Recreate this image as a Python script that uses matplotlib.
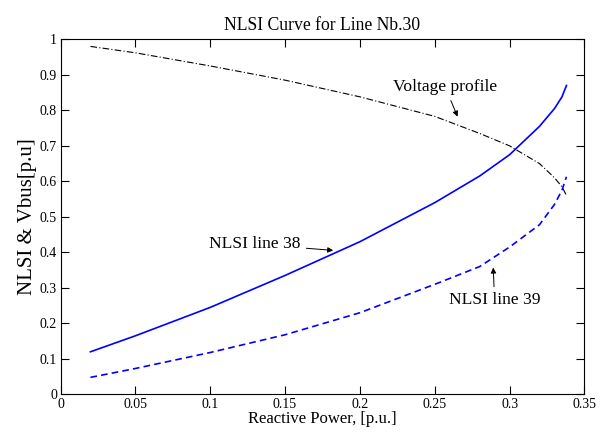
import matplotlib
matplotlib.use('Agg')
import matplotlib.pyplot as plt

# values
q = [0.02, 0.05, 0.10, 0.15, 0.20, 0.25, 0.28, 0.30, 0.32, 0.33, 0.335, 0.338]
nlsi38 = [0.12, 0.165, 0.245, 0.335, 0.43, 0.54, 0.615, 0.675, 0.755, 0.805, 0.838, 0.87]
nlsi39 = [0.048, 0.073, 0.118, 0.168, 0.23, 0.31, 0.36, 0.415, 0.478, 0.535, 0.575, 0.613]
vbus = [0.98, 0.962, 0.925, 0.885, 0.838, 0.783, 0.735, 0.70, 0.65, 0.61, 0.585, 0.56]

xticks = [0, 0.05, 0.1, 0.15, 0.2, 0.25, 0.3, 0.35]
yticks = [0, 0.1, 0.2, 0.3, 0.4, 0.5, 0.6, 0.7, 0.8, 0.9, 1]

plt.rcParams['font.family'] = ['Liberation Serif', 'DejaVu Serif']

fig = plt.figure(figsize=(6.05, 4.32), dpi=100)
ax = fig.add_axes([0.1, 0.087, 0.866, 0.822])

ax.plot(q, vbus, color='black', linewidth=0.8, linestyle=(0, (6, 2, 1, 2)))
ax.plot(q, nlsi38, color='blue', linewidth=1.2)
ax.plot(q, nlsi39, color='blue', linewidth=1.2, linestyle=(0, (4, 2.5)))

ax.set_xlim(0, 0.35)
ax.set_ylim(0, 1)
ax.set_xticks(xticks)
ax.set_xticklabels(['0', '0.05', '0.1', '0.15', '0.2', '0.25', '0.3', '0.35'])
ax.set_yticks(yticks)
ax.set_yticklabels(['0', '0.1', '0.2', '0.3', '0.4', '0.5', '0.6', '0.7', '0.8', '0.9', '1'])
ax.tick_params(direction='in', top=True, right=True, labelsize=10, length=5.5, pad=2.5)
for s in ax.spines.values():
    s.set_linewidth(0.8)

ax.set_title('NLSI Curve for Line Nb.30', fontsize=12.7, pad=7)
ax.set_xlabel('Reactive Power, [p.u.]', fontsize=12, labelpad=0)
ax.set_ylabel('NLSI & Vbus[p.u]', fontsize=15, labelpad=2)

arr = dict(arrowstyle='-|>', color='black', linewidth=0.7, mutation_scale=8)
ax.annotate('Voltage profile', xy=(0.266, 0.775), xytext=(0.257, 0.865),
            ha='center', va='center', fontsize=12.6, arrowprops=arr)
ax.annotate('NLSI line 38', xy=(0.184, 0.405), xytext=(0.130, 0.423),
            ha='center', va='center', fontsize=12.6, arrowprops=arr)
ax.annotate('NLSI line 39', xy=(0.289, 0.365), xytext=(0.29, 0.265),
            ha='center', va='center', fontsize=12.6, arrowprops=arr)

fig.savefig('out.png', dpi=100)
